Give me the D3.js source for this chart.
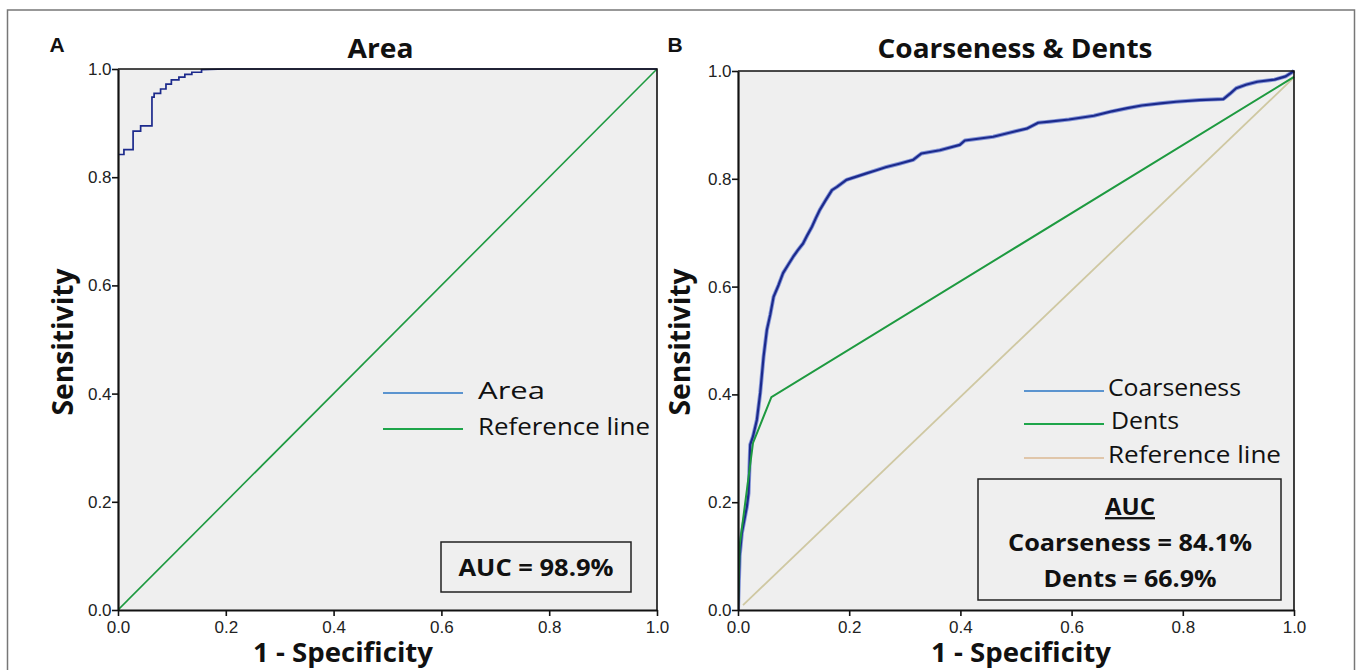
<!DOCTYPE html>
<html>
<head>
<meta charset="utf-8">
<script src="https://cdn.jsdelivr.net/npm/d3@7"></script>
<style>
  html, body { margin: 0; padding: 0; background: #fff; }
  svg { display: block; }
</style>
</head>
<body>
<svg id="chart" width="1357" height="670"></svg>
<script>
// ---------- DATA ----------
const tickValues = [0, 0.2, 0.4, 0.6, 0.8, 1.0];
const tickLabels = ["0.0", "0.2", "0.4", "0.6", "0.8", "1.0"];

// Panel A: Area ROC (step curve), [1-specificity, sensitivity]
const areaFpr = [0, 0, 0.011, 0.011, 0.028, 0.028, 0.042, 0.042, 0.063, 0.063, 0.067, 0.067, 0.079, 0.079, 0.089, 0.089, 0.099, 0.099, 0.113, 0.113, 0.124, 0.124, 0.137, 0.137, 0.155, 0.155, 0.20, 1.0];
const areaTpr = [0, 0.842, 0.842, 0.851, 0.851, 0.885, 0.885, 0.895, 0.895, 0.948, 0.948, 0.955, 0.955, 0.963, 0.963, 0.972, 0.972, 0.980, 0.980, 0.985, 0.985, 0.990, 0.990, 0.994, 0.994, 0.999, 1.0, 1.0];
const refA = [[0, 0], [1, 1]];

// Panel B: Coarseness ROC
const coarseFpr = [0, 0.003, 0.007, 0.012, 0.016, 0.019, 0.022, 0.027, 0.034, 0.040, 0.046, 0.052, 0.058, 0.064, 0.073, 0.081, 0.090, 0.099, 0.108, 0.117, 0.125, 0.133, 0.140, 0.147, 0.158, 0.169, 0.178, 0.195, 0.213, 0.231, 0.249, 0.267, 0.290, 0.315, 0.330, 0.363, 0.399, 0.408, 0.459, 0.490, 0.519, 0.540, 0.560, 0.595, 0.640, 0.672, 0.700, 0.726, 0.760, 0.788, 0.830, 0.873, 0.885, 0.896, 0.915, 0.934, 0.965, 0.985, 1.0];
const coarseTpr = [0, 0.100, 0.143, 0.170, 0.192, 0.217, 0.307, 0.322, 0.353, 0.403, 0.470, 0.520, 0.548, 0.581, 0.603, 0.625, 0.640, 0.655, 0.668, 0.680, 0.696, 0.711, 0.727, 0.742, 0.761, 0.779, 0.785, 0.798, 0.804, 0.810, 0.816, 0.822, 0.828, 0.835, 0.847, 0.853, 0.863, 0.871, 0.878, 0.886, 0.893, 0.904, 0.906, 0.910, 0.917, 0.925, 0.931, 0.936, 0.940, 0.943, 0.946, 0.948, 0.958, 0.968, 0.975, 0.980, 0.984, 0.990, 1.0];

// Panel B: Dents ROC
const dentsFpr = [0, 0.003, 0.027, 0.060, 1.0];
const dentsTpr = [0, 0.120, 0.310, 0.395, 0.989];

// Panel B: reference line
const refB = [[0.009, 0.009], [1.0, 0.988]];

// Text
const panelLetters = ["A", "B"];
const panelTitles = ["Area", "Coarseness & Dents"];
const xTitle = "1 - Specificity";
const yTitle = "Sensitivity";
const legendA = ["Area", "Reference line"];
const legendB = ["Coarseness", "Dents", "Reference line"];
const aucA = "AUC = 98.9%";
const aucB = ["AUC", "Coarseness = 84.1%", "Dents = 66.9%"];

// ---------- DRAW ----------
const svg = d3.select("#chart");
const C = {
  bg: "#efefef",
  navy: "#1c2a8c",
  navyHalo: "#8596d8",
  green: "#1e9a40",
  tan: "#cfc8a2",
  legBlue: "#5b94cf",
  legGreen: "#1ea54a",
  legTan: "#e0c6aa",
  tick: "#222"
};

// outer frame
svg.append("rect").attr("x", 7.5).attr("y", 10).attr("width", 1347).attr("height", 700)
  .attr("fill", "none").attr("stroke", "#777").attr("stroke-width", 1.5);

function panel(opts) {
  const x = d3.scaleLinear().domain([0, 1]).range([opts.x0, opts.x1]);
  const y = d3.scaleLinear().domain([0, 1]).range([opts.y0, opts.y1]);
  const g = svg.append("g");

  g.append("rect").attr("x", opts.x0).attr("y", opts.y1)
    .attr("width", opts.x1 - opts.x0).attr("height", opts.y0 - opts.y1)
    .attr("fill", C.bg);

  const clipId = "clip" + opts.id;
  svg.append("clipPath").attr("id", clipId).append("rect")
    .attr("x", opts.x0).attr("y", opts.y1 - 2)
    .attr("width", opts.x1 - opts.x0 + 2).attr("height", opts.y0 - opts.y1 + 2);
  const plot = g.append("g").attr("clip-path", `url(#${clipId})`);

  // frame top/right
  g.append("path")
    .attr("d", `M${opts.x0},${opts.y1}H${opts.x1}V${opts.y0}`)
    .attr("fill", "none").attr("stroke", "#111").attr("stroke-width", 1.6);

  // axes
  const xAxis = d3.axisBottom(x).tickValues(tickValues)
    .tickFormat((d, i) => tickLabels[i]).tickSize(6).tickSizeOuter(0);
  const yAxis = d3.axisLeft(y).tickValues(tickValues)
    .tickFormat((d, i) => tickLabels[i]).tickSize(6).tickSizeOuter(0);
  const gx = g.append("g").attr("transform", `translate(0,${opts.y0})`).call(xAxis);
  const gy = g.append("g").attr("transform", `translate(${opts.x0},0)`).call(yAxis);
  [gx, gy].forEach(a => {
    a.attr("font-size", null).attr("font-family", null);
    a.select(".domain").attr("stroke", "#111").attr("stroke-width", 2.2);
    a.selectAll(".tick line").attr("stroke", "#111").attr("stroke-width", 1.6);
    a.selectAll(".tick text").attr("fill", C.tick)
      .attr("font-family", "'Liberation Sans', Arial, sans-serif").attr("font-size", 17);
  });
  gx.selectAll(".tick text").attr("dy", "0.8em");
  gy.selectAll(".tick text").attr("dx", "0.15em");

  // letter
  svg.append("text").attr("x", opts.letterX).attr("y", 52).text(opts.letter)
    .attr("text-anchor", "middle")
    .style("font-family", "'Liberation Sans', Arial, sans-serif")
    .style("font-weight", "bold").style("font-size", "21px").attr("fill", "#111");

  // title
  svg.append("text").attr("x", (opts.x0 + opts.x1) / 2 + opts.titleDx).attr("y", 58)
    .attr("text-anchor", "middle").text(opts.title)
    .attr("textLength", opts.titleLen).attr("lengthAdjust", "spacingAndGlyphs")
    .style("font-family", "'Open Sans', sans-serif").style("font-weight", "bold")
    .style("font-size", "26px").attr("fill", "#111");

  // x title
  svg.append("text").attr("x", opts.xTitleX).attr("y", 662)
    .attr("text-anchor", "middle").text(xTitle)
    .attr("textLength", 180).attr("lengthAdjust", "spacingAndGlyphs")
    .style("font-family", "'Open Sans', sans-serif").style("font-weight", "bold")
    .style("font-size", "26px").attr("fill", "#111");

  // y title
  svg.append("text")
    .attr("transform", `translate(${opts.yTitleX},${opts.yTitleY}) rotate(-90)`)
    .attr("text-anchor", "middle").text(yTitle)
    .attr("textLength", 147).attr("lengthAdjust", "spacingAndGlyphs")
    .style("font-family", "'Open Sans', sans-serif").style("font-weight", "bold")
    .style("font-size", "28px").attr("fill", "#111");

  return { x, y, g, plot };
}

function legendText(x, y, t, len) {
  svg.append("text").attr("x", x).attr("y", y).attr("dy", "0.35em").text(t)
    .attr("textLength", len).attr("lengthAdjust", "spacingAndGlyphs")
    .style("font-family", "'Open Sans', sans-serif").style("font-size", "23px").attr("fill", "#111");
}

// ---- Panel A ----
const A = panel({ id: "A", x0: 118, x1: 657, y0: 610, y1: 69, letter: panelLetters[0], letterX: 57,
  title: panelTitles[0], titleLen: 66, titleDx: -7, xTitleX: 343, yTitleX: 73, yTitleY: 342 });

const lineA = d3.line().x(d => A.x(d[0])).y(d => A.y(d[1]));
A.plot.append("path").datum(refA).attr("d", lineA)
  .attr("fill", "none").attr("stroke", C.green).attr("stroke-width", 1.6);
A.plot.append("path").datum(areaFpr.map((f, i) => [f, areaTpr[i]])).attr("d", lineA)
  .attr("fill", "none").attr("stroke", C.navy).attr("stroke-width", 1.7);

// legend A
const legAy = [393, 429];
const legAcol = [C.legBlue, C.legGreen];
const legAlen = [67, 172];
legendA.forEach((t, i) => {
  svg.append("line").attr("x1", 383).attr("x2", 463).attr("y1", legAy[i]).attr("y2", legAy[i])
    .attr("stroke", legAcol[i]).attr("stroke-width", 2.2);
  legendText(478, legAy[i] - 2, t, legAlen[i]);
});

// AUC box A
svg.append("rect").attr("x", 441).attr("y", 542).attr("width", 190).attr("height", 50)
  .attr("fill", C.bg).attr("stroke", "#222").attr("stroke-width", 1.5);
svg.append("text").attr("x", 536).attr("y", 568).attr("dy", "0.35em").attr("text-anchor", "middle")
  .text(aucA).attr("textLength", 155).attr("lengthAdjust", "spacingAndGlyphs")
  .style("font-family", "'Open Sans', sans-serif").style("font-weight", "bold")
  .style("font-size", "23px").attr("fill", "#111");

// ---- Panel B ----
const B = panel({ id: "B", x0: 738, x1: 1294, y0: 610, y1: 71, letter: panelLetters[1], letterX: 675,
  title: panelTitles[1], titleLen: 275, titleDx: -1, xTitleX: 1021, yTitleX: 690, yTitleY: 342 });

const lineB = d3.line().x(d => B.x(d[0])).y(d => B.y(d[1]));
B.plot.append("path").datum(refB).attr("d", lineB)
  .attr("fill", "none").attr("stroke", C.tan).attr("stroke-width", 1.8);
const coarse = coarseFpr.map((f, i) => [f, coarseTpr[i]]);
B.plot.append("path").datum(coarse).attr("d", lineB)
  .attr("fill", "none").attr("stroke", C.navyHalo).attr("stroke-width", 4).attr("stroke-linejoin", "round");
B.plot.append("path").datum(coarse).attr("d", lineB)
  .attr("fill", "none").attr("stroke", C.navy).attr("stroke-width", 2.2).attr("stroke-linejoin", "round");
B.plot.append("path").datum(dentsFpr.map((f, i) => [f, dentsTpr[i]])).attr("d", lineB)
  .attr("fill", "none").attr("stroke", C.green).attr("stroke-width", 2);

// legend B
const legBy = [391, 424, 458];
const legBcol = [C.legBlue, C.legGreen, C.legTan];
const legBlen = [133, 68, 173];
const legBx = [1108, 1111, 1108];
legendB.forEach((t, i) => {
  svg.append("line").attr("x1", 1024).attr("x2", 1104).attr("y1", legBy[i]).attr("y2", legBy[i])
    .attr("stroke", legBcol[i]).attr("stroke-width", 2.2);
  legendText(legBx[i], legBy[i] - 3, t, legBlen[i]);
});

// AUC box B
svg.append("rect").attr("x", 978).attr("y", 479).attr("width", 303).attr("height", 121)
  .attr("fill", C.bg).attr("stroke", "#222").attr("stroke-width", 1.5);
const aucBy = [507, 543, 579];
const aucBlen = [50, 244, 173];
aucB.forEach((t, i) => {
  svg.append("text").attr("x", 1130).attr("y", aucBy[i]).attr("dy", "0.35em").attr("text-anchor", "middle")
    .text(t).attr("textLength", aucBlen[i]).attr("lengthAdjust", "spacingAndGlyphs")
    .style("font-family", "'Open Sans', sans-serif").style("font-weight", "bold")
    .style("text-decoration", i === 0 ? "underline" : "none")
    .style("font-size", "23px").attr("fill", "#111");
});
</script>
</body>
</html>
